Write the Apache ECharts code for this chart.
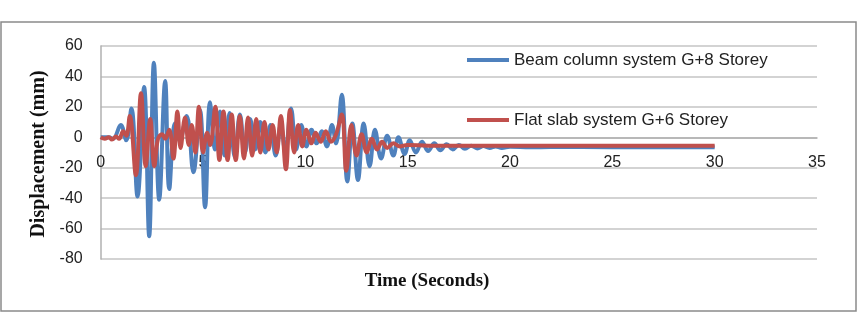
<!DOCTYPE html>
<html>
<head>
<meta charset="utf-8">
<script src="https://cdn.jsdelivr.net/npm/echarts@6/dist/echarts.min.js"></script>
<style>html,body{margin:0;padding:0;background:#fff}#c{width:864px;height:314px}</style>
</head>
<body>
<div id="c"></div>
<script>
// ---- data ----
const seriesNames = ['Beam column system G+8 Storey', 'Flat slab system G+6 Storey'];
const xTicks = [0, 5, 10, 15, 20, 25, 30, 35];
const yTicks = [-80, -60, -40, -20, 0, 20, 40, 60];
const xTitle = 'Time (Seconds)';
const yTitle = 'Displacement (mm)';

const beamTime = [0,0.4,0.6,0.98,1.25,1.5,1.8,2.12,2.37,2.6,2.86,3.15,3.35,3.63,3.85,4.2,4.53,4.85,5.1,5.34,5.59,5.83,6.05,6.3,6.55,6.8,7.05,7.3,7.55,7.8,8.05,8.3,8.55,8.8,9.02,9.3,9.55,9.8,10.05,10.3,10.55,10.8,11.05,11.3,11.5,11.78,12.05,12.3,12.57,12.85,13.14,13.4,13.7,14.0,14.3,14.55,14.85,15.1,15.4,15.7,16.0,16.3,16.6,16.9,17.2,17.5,17.8,18.1,18.4,18.7,19.0,19.3,19.6,20.0,21.0,22.0,25.0,30.0];
const beamDisp = [0,0,-1,8,-2,19,-39,33,-65,49,-41,37,-34,9,-2,14,-23,18,-46,23,-8,17,-12,16,-13,15,-10,12,-8,10,-10,8,-12,8,-10,19,-8,8,-6,5,-4,4,-6,8,-4,28,-29,9,-28,9,-19,5,-14,1,-12,0,-11,-2,-10,-3,-9,-4,-8.5,-4.5,-8,-5,-7.5,-5.5,-7.3,-5.8,-7,-6,-7,-6.3,-6.6,-6.4,-6.5,-6.5];

const slabTime = [0,0.2,0.4,0.55,0.75,0.9,1.1,1.25,1.42,1.72,1.97,2.2,2.42,2.62,2.8,3.0,3.15,3.35,3.55,3.75,3.9,4.12,4.3,4.45,4.62,4.8,5.0,5.2,5.35,5.6,5.8,6.0,6.2,6.4,6.6,6.8,7.0,7.2,7.4,7.6,7.8,8.0,8.2,8.4,8.6,8.8,9.05,9.25,9.45,9.65,9.85,10.05,10.3,10.5,10.75,11.0,11.25,11.5,11.78,12.0,12.25,12.5,12.75,13.0,13.25,13.5,13.75,14.0,14.3,14.6,15.0,16.0,20.0,30.0];
const slabDisp = [0,-1,0,-1.5,0.5,-1,4,1,14,-25,29,-19,12,-19,-1,2,-1,5,-14,17,-7,13,-5,8,-10,20,-10,3,-5,20,-15,17,-15,15,-15,14,-14,13,-12,12,-10,10,-8,8,-10,14,-21,18,-10,8,-6,5,-4,3,-3,4,-3,2,15,-22,8,-12,2,-10,-1,-8,-3,-7,-4,-6,-5,-5.5,-5.5,-5.5];

const pair = (t, v) => t.map((x, i) => [x, v[i]]);

const gridTop = 46, gridBottom = 55, H = 314;
const yMin = yTicks[0], yMax = yTicks[yTicks.length - 1];
const zeroOffset = -(H - gridTop - gridBottom) * (0 - yMin) / (yMax - yMin);

const chart = echarts.init(document.getElementById('c'), null, {renderer: 'canvas'});
const labelFont = 'Liberation Sans, Arial, sans-serif';
const serif = 'Liberation Serif, Times New Roman, serif';
chart.setOption({
  animation: false,
  backgroundColor: '#ffffff',
  grid: {left: 100.7, right: 47, top: gridTop, bottom: gridBottom, containLabel: false},
  xAxis: {
    type: 'value', min: xTicks[0], max: xTicks[xTicks.length - 1], interval: 5,
    position: 'bottom', offset: zeroOffset,
    axisLine: {show: true, onZero: false, lineStyle: {color: '#B0B0B0', width: 1.5}},
    axisTick: {show: false},
    splitLine: {show: false},
    axisLabel: {color: '#222', fontSize: 16, fontFamily: labelFont, margin: 17}
  },
  yAxis: {
    type: 'value', min: yMin, max: yMax, interval: 20,
    axisLine: {show: true, onZero: false, lineStyle: {color: '#B0B0B0', width: 1.5}},
    axisTick: {show: false},
    splitLine: {show: true, lineStyle: {color: '#C4C4C4', width: 1.5}},
    axisLabel: {color: '#222', fontSize: 16, fontFamily: labelFont, margin: 18}
  },
  legend: {
    orient: 'vertical', left: 462, top: 45, itemGap: 40,
    itemWidth: 42, itemHeight: 4, icon: 'rect',
    textStyle: {color: '#222', fontSize: 17, fontFamily: labelFont, lineHeight: 20},
    data: seriesNames
  },
  series: [
    {name: seriesNames[0], type: 'line', data: pair(beamTime, beamDisp), showSymbol: false, smooth: 0.4,
     lineStyle: {color: '#4F81BD', width: 4}, itemStyle: {color: '#4F81BD'}, z: 2},
    {name: seriesNames[1], type: 'line', data: pair(slabTime, slabDisp), showSymbol: false, smooth: 0.4,
     lineStyle: {color: '#C0504D', width: 4}, itemStyle: {color: '#C0504D'}, z: 3}
  ],
  graphic: [
    {type: 'rect', shape: {x: 1, y: 22, width: 855, height: 289}, style: {fill: 'none', stroke: '#8A8A8A', lineWidth: 1.5}, z: -10, silent: true},
    {type: 'text', x: 427, y: 281, style: {text: xTitle, font: 'bold 19px ' + serif, fill: '#111', textAlign: 'center', textVerticalAlign: 'middle'}},
    {type: 'text', x: 39, y: 154, rotation: Math.PI / 2, style: {text: yTitle, font: 'bold 20px ' + serif, fill: '#111', textAlign: 'center', textVerticalAlign: 'middle'}}
  ]
});
</script>
</body>
</html>
